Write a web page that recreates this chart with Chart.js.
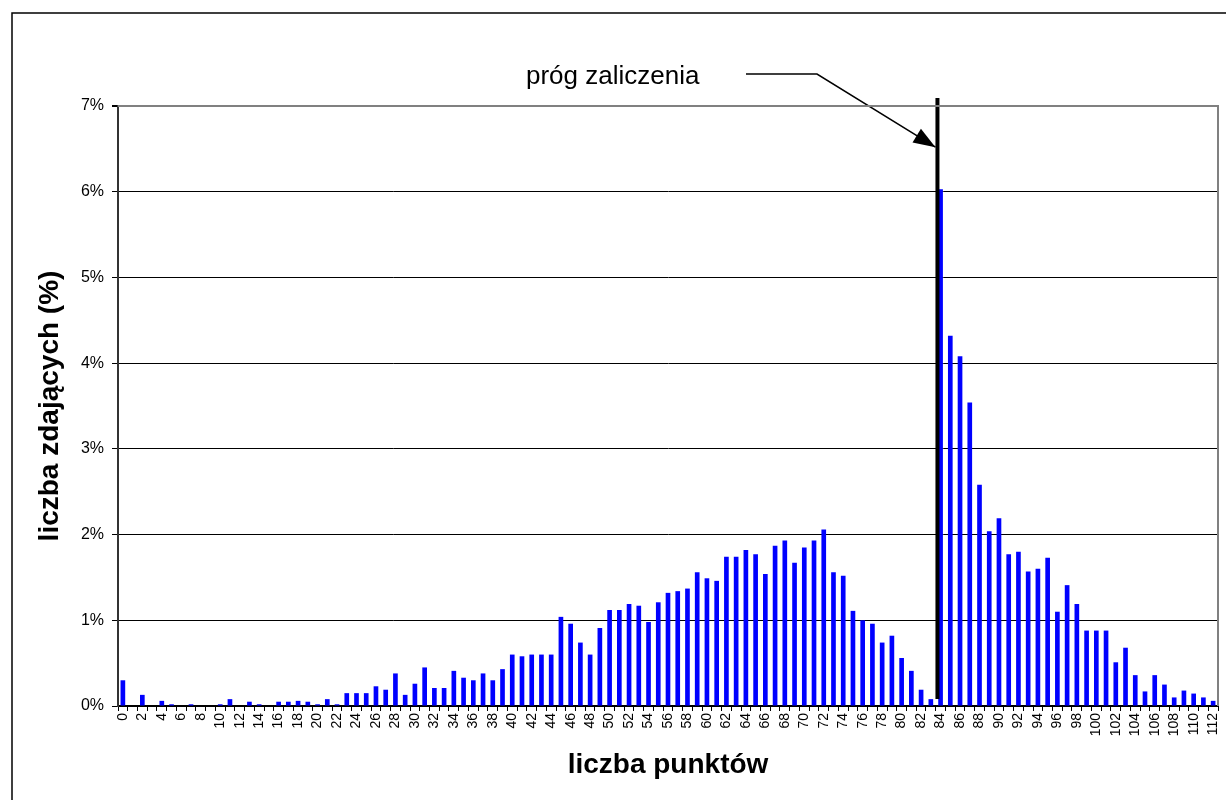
<!DOCTYPE html>
<html>
<head>
<meta charset="utf-8">
<script src="https://cdn.jsdelivr.net/npm/chart.js@4.4.1/dist/chart.umd.min.js"></script>
<style>
  html, body { margin: 0; padding: 0; background: #fff; }
  #wrap { width: 1226px; height: 800px; }
</style>
</head>
<body>
<div id="wrap"><canvas id="chart" width="1226" height="800"></canvas></div>
<script>
// --- dane ---
const punkty = [
  '0','1','2','3','4','5','6','7','8','9','10','11','12','13','14','15','16','17','18','19',
  '20','21','22','23','24','25','26','27','28','29','30','31','32','33','34','35','36','37','38','39',
  '40','41','42','43','44','45','46','47','48','49','50','51','52','53','54','55','56','57','58','59',
  '60','61','62','63','64','65','66','67','68','69','70','71','72','73','74','75','76','77','78','79',
  '80','81','82','83','84','85','86','87','88','89','90','91','92','93','94','95','96','97','98','99',
  '100','101','102','103','104','105','106','107','108','109','110','111','112'
];

// procent zdających (%)
const zdajacy = [
  0.30, 0.00, 0.13, 0.00, 0.06, 0.02, 0.00, 0.02, 0.00, 0.00,
  0.02, 0.08, 0.00, 0.05, 0.02, 0.00, 0.05, 0.05, 0.06, 0.05,
  0.02, 0.08, 0.02, 0.15, 0.15, 0.15, 0.23, 0.19, 0.38, 0.13,
  0.26, 0.45, 0.21, 0.21, 0.41, 0.33, 0.30, 0.38, 0.30, 0.43,
  0.60, 0.58, 0.60, 0.60, 0.60, 1.04, 0.96, 0.74, 0.60, 0.91,
  1.12, 1.12, 1.19, 1.17, 0.98, 1.21, 1.32, 1.34, 1.37, 1.56,
  1.49, 1.46, 1.74, 1.74, 1.82, 1.77, 1.54, 1.87, 1.93, 1.67,
  1.85, 1.93, 2.06, 1.56, 1.52, 1.11, 1.00, 0.96, 0.74, 0.82,
  0.56, 0.41, 0.19, 0.08, 6.03, 4.32, 4.08, 3.54, 2.58, 2.04,
  2.19, 1.77, 1.80, 1.57, 1.60, 1.73, 1.10, 1.41, 1.19, 0.88,
  0.88, 0.88, 0.51, 0.68, 0.36, 0.17, 0.36, 0.25, 0.10, 0.18,
  0.145, 0.10, 0.06
];

const progIndex = 84;           // próg zaliczenia
const progEtykieta = 'próg zaliczenia';
const yMax = 7;

const FONT = "'Liberation Sans', Arial, sans-serif";

// ramka całego wykresu + obramowanie obszaru kreślenia
const ramka = {
  id: 'ramka',
  beforeDraw(chart) {
    const ctx = chart.ctx;
    ctx.save();
    ctx.fillStyle = '#fff';
    ctx.fillRect(0, 0, chart.width, chart.height);
    ctx.strokeStyle = '#000';
    ctx.lineWidth = 1.5;
    ctx.strokeRect(12, 13, chart.width + 50, chart.height + 50);
    ctx.restore();
  },
  afterDraw(chart) {
    const { ctx, chartArea: a } = chart;
    ctx.save();
    ctx.strokeStyle = '#808080';
    ctx.lineWidth = 2;
    ctx.beginPath();
    ctx.moveTo(a.left, a.top);
    ctx.lineTo(a.right, a.top);
    ctx.lineTo(a.right, a.bottom);
    ctx.stroke();
    ctx.restore();
  }
};

// pionowa linia progu i strzałka z opisem
const prog = {
  id: 'prog',
  afterDatasetsDraw(chart) {
    const { ctx, scales: { x, y } } = chart;
    const step = x.width / punkty.length;
    const lx = x.getPixelForValue(progIndex) - 0.32 * step;
    ctx.save();
    ctx.strokeStyle = '#000';
    ctx.lineWidth = 4;
    ctx.beginPath();
    ctx.moveTo(lx, y.getPixelForValue(yMax) - 8);
    ctx.lineTo(lx, y.getPixelForValue(0) - 7);
    ctx.stroke();

    // strzałka
    const tipX = lx - 2, tipY = y.getPixelForValue(6.52);
    const elbowX = 817, elbowY = 74, startX = 746;
    ctx.lineWidth = 1.5;
    ctx.beginPath();
    ctx.moveTo(startX, elbowY);
    ctx.lineTo(elbowX, elbowY);
    ctx.lineTo(tipX, tipY);
    ctx.stroke();
    const ang = Math.atan2(tipY - elbowY, tipX - elbowX);
    const len = 22, half = 8;
    ctx.fillStyle = '#000';
    ctx.beginPath();
    ctx.moveTo(tipX, tipY);
    ctx.lineTo(tipX - len * Math.cos(ang) + half * Math.sin(ang), tipY - len * Math.sin(ang) - half * Math.cos(ang));
    ctx.lineTo(tipX - len * Math.cos(ang) - half * Math.sin(ang), tipY - len * Math.sin(ang) + half * Math.cos(ang));
    ctx.closePath();
    ctx.fill();

    ctx.font = '26px ' + FONT;
    ctx.textAlign = 'left';
    ctx.textBaseline = 'middle';
    ctx.fillText(progEtykieta, 526, 77);
    ctx.restore();
  }
};

new Chart(document.getElementById('chart'), {
  type: 'bar',
  data: {
    labels: punkty,
    datasets: [{
      data: zdajacy,
      backgroundColor: '#0000FF',
      borderWidth: 0,
      categoryPercentage: 1,
      barPercentage: 0.48
    }]
  },
  options: {
    responsive: false,
    animation: false,
    devicePixelRatio: 1,
    layout: { padding: { left: 0, top: 106, right: 8, bottom: 0 } },
    plugins: { legend: { display: false }, tooltip: { enabled: false } },
    scales: {
      x: {
        offset: true,
        afterFit(s) { s.height = 94; s.paddingLeft = 0; s.paddingRight = 0; },
        grid: { offset: true, drawOnChartArea: false, tickLength: 5, tickColor: '#000', tickWidth: 1 },
        border: { display: true, color: '#000', width: 2 },
        ticks: {
          autoSkip: false,
          minRotation: 90,
          maxRotation: 90,
          padding: 2,
          color: '#000',
          font: { family: FONT, size: 14 },
          callback(v, i) { return i % 2 === 0 ? punkty[i] : ''; }
        },
        title: {
          display: true,
          text: 'liczba punktów',
          color: '#000',
          font: { family: FONT, size: 28, weight: 'bold' },
          padding: { top: 0, bottom: 18 }
        }
      },
      y: {
        min: 0,
        max: yMax,
        afterFit(s) { s.width = 118; },
        grid: {
          color: c => (c.tick && c.tick.value === yMax) ? '#808080' : '#000',
          lineWidth: c => (c.tick && c.tick.value === yMax) ? 2 : 1,
          tickLength: 6,
          tickColor: '#000'
        },
        border: { display: true, color: '#333', width: 2 },
        ticks: {
          stepSize: 1,
          padding: 8,
          color: '#000',
          font: { family: FONT, size: 16 },
          callback: v => v + '%'
        },
        title: {
          display: true,
          text: 'liczba zdających (%)',
          color: '#000',
          font: { family: FONT, size: 28, weight: 'bold' },
          padding: { top: 33, bottom: 0 }
        }
      }
    }
  },
  plugins: [ramka, prog]
});
</script>
</body>
</html>
